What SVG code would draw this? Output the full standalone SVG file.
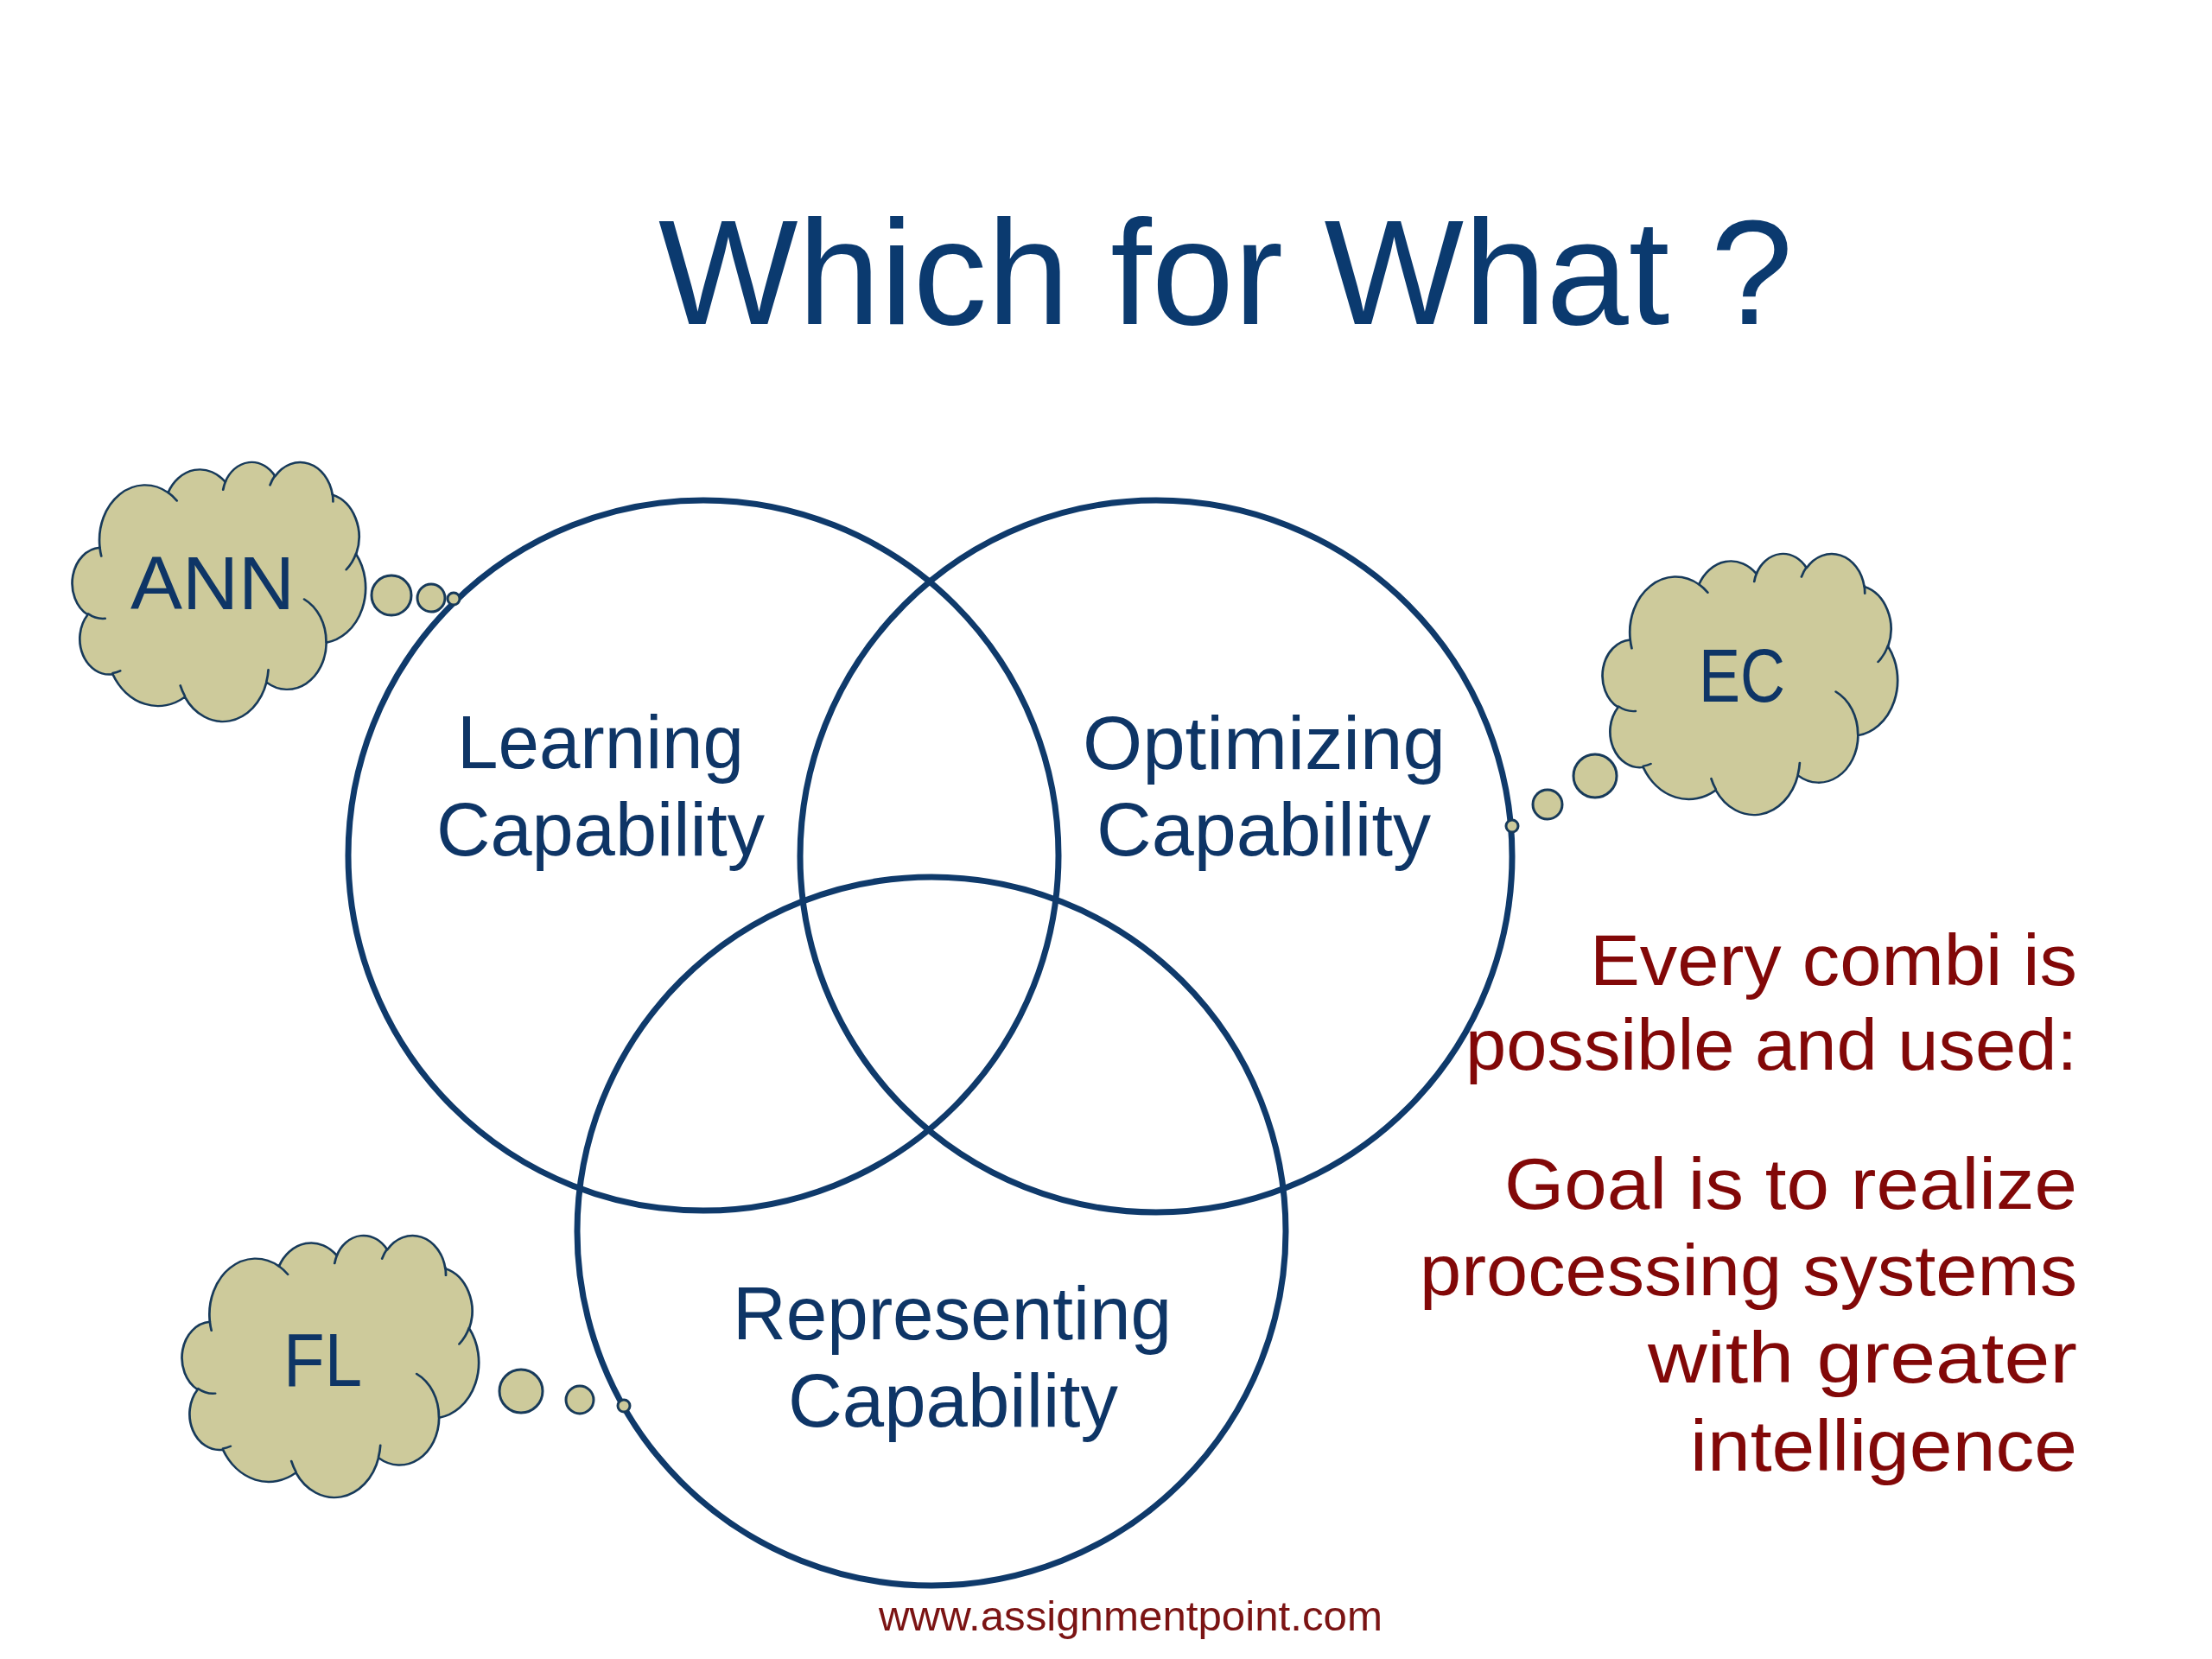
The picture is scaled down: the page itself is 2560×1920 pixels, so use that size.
<svg xmlns="http://www.w3.org/2000/svg" width="2560" height="1920" viewBox="0 0 2560 1920">
<style>
.bg{fill:#ffffff}
.venn{fill:none;stroke:#0f3a6b;stroke-width:7}
.cloud{fill:#cdca9b;stroke:#173a5a;stroke-width:0.8;stroke-linejoin:round}
.inner{fill:none;stroke:#173a5a;stroke-width:0.8;stroke-linecap:round}
.bubble{fill:#cdca9b;stroke:#173a5a;stroke-width:3}
.title{font-family:"Liberation Sans",Arial,sans-serif;font-size:172px;fill:#0b3a6f}
.lbl{font-family:"Liberation Sans",Arial,sans-serif;font-size:88px;fill:#0e3566}
.ctxt{font-family:"Liberation Sans",Arial,sans-serif;font-size:88px;fill:#0e3566}
.note{font-family:"Liberation Sans",Arial,sans-serif;font-size:84px;fill:#820808}
.foot{font-family:"Liberation Sans",Arial,sans-serif;font-size:49px;fill:#7b1414}
</style>
<defs>
<path id="cloudOutline" d="M 9.03 33.26 A 15.63 21.27 0 0 1 32.42 12.04 A 12.35 16.82 0 0 1 51.98 7.94 A 10.10 13.76 0 0 1 69.06 5.73 A 11.24 15.27 0 0 1 88.70 12.90 A 12.35 16.84 0 0 1 96.80 35.78 A 15.68 21.34 0 0 1 86.59 69.90 A 13.39 18.21 0 0 1 66.10 85.20 A 15.63 21.33 0 0 1 38.15 90.88 A 17.87 24.41 0 0 1 13.44 82.09 A 10.09 13.70 0 0 1 4.89 59.13 A 10.06 13.76 0 0 1 9.03 33.26 Z"/>
<path id="cloudInner" d="M 10.86 60.60 A 10.06 13.76 0 0 1 5.00 58.75 M 16.04 80.78 A 10.09 13.70 0 0 1 13.47 81.67 M 38.14 90.49 A 15.63 21.33 0 0 1 36.60 86.45 M 66.73 80.44 A 15.63 21.33 0 0 1 66.11 84.86 M 79.00 53.13 A 13.39 18.21 0 0 1 86.53 69.65 M 96.75 35.54 A 12.35 16.84 0 0 1 93.40 41.74 M 88.71 12.56 A 11.24 15.27 0 0 1 88.89 15.48 M 67.31 9.15 A 11.24 15.27 0 0 1 69.03 5.42 M 51.25 10.93 A 10.10 13.76 0 0 1 52.08 7.71 M 32.41 12.02 A 15.63 21.27 0 0 1 35.42 15.14 M 9.55 36.55 A 15.63 21.27 0 0 1 9.03 33.27"/>
</defs>
<rect class="bg" x="0" y="0" width="2560" height="1920"/>

<g id="title">
<text class="title" x="762" y="375" textLength="1313" lengthAdjust="spacingAndGlyphs">Which for What ?</text>
</g>

<g id="node-learning">
<circle class="venn" cx="814" cy="990" r="411"/>
<text class="lbl" x="529" y="889" textLength="332" lengthAdjust="spacingAndGlyphs">Learning</text>
<text class="lbl" x="505" y="990" textLength="380" lengthAdjust="spacingAndGlyphs">Capability</text>
</g>

<g id="node-optimizing">
<circle class="venn" cx="1338" cy="991" r="412"/>
<text class="lbl" x="1253" y="890" textLength="420" lengthAdjust="spacingAndGlyphs">Optimizing</text>
<text class="lbl" x="1269" y="990" textLength="387" lengthAdjust="spacingAndGlyphs">Capability</text>
</g>

<g id="node-representing">
<circle class="venn" cx="1078" cy="1425" r="410"/>
<text class="lbl" x="848" y="1550" textLength="508" lengthAdjust="spacingAndGlyphs">Representing</text>
<text class="lbl" x="912" y="1651" textLength="382" lengthAdjust="spacingAndGlyphs">Capability</text>
</g>

<g id="cloud-ann">
<g transform="translate(85,534) scale(3.38,3.00)">
<use href="#cloudOutline" class="cloud"/>
<use href="#cloudInner" class="inner"/>
</g>
<text class="ctxt" x="151" y="705" textLength="190" lengthAdjust="spacingAndGlyphs">ANN</text>
</g>

<g id="cloud-ec">
<g transform="translate(1856,640) scale(3.40,3.02)">
<use href="#cloudOutline" class="cloud"/>
<use href="#cloudInner" class="inner"/>
</g>
<text class="ctxt" x="1966" y="812" textLength="100" lengthAdjust="spacingAndGlyphs">EC</text>
</g>

<g id="cloud-fl">
<g transform="translate(212,1429) scale(3.42,3.03)">
<use href="#cloudOutline" class="cloud"/>
<use href="#cloudInner" class="inner"/>
</g>
<text class="ctxt" x="328" y="1604" textLength="91" lengthAdjust="spacingAndGlyphs">FL</text>
</g>

<g id="connectors">
<circle class="bubble" cx="453" cy="689" r="23"/>
<circle class="bubble" cx="499" cy="692" r="16"/>
<circle class="bubble" cx="525" cy="693" r="7"/>
<circle class="bubble" cx="1846" cy="898" r="25"/>
<circle class="bubble" cx="1791" cy="931" r="17"/>
<circle class="bubble" cx="1750" cy="956" r="7"/>
<circle class="bubble" cx="603" cy="1610" r="25"/>
<circle class="bubble" cx="671" cy="1620" r="16"/>
<circle class="bubble" cx="722" cy="1627" r="7"/>
</g>

<g id="note">
<text class="note" x="1840" y="1140" textLength="564" lengthAdjust="spacingAndGlyphs">Every combi is</text>
<text class="note" x="1696" y="1238" textLength="708" lengthAdjust="spacingAndGlyphs">possible and used:</text>
<text class="note" x="1741" y="1399" textLength="663" lengthAdjust="spacingAndGlyphs">Goal is to realize</text>
<text class="note" x="1643" y="1499" textLength="761" lengthAdjust="spacingAndGlyphs">processing systems</text>
<text class="note" x="1907" y="1600" textLength="497" lengthAdjust="spacingAndGlyphs">with greater</text>
<text class="note" x="1956" y="1702" textLength="448" lengthAdjust="spacingAndGlyphs">intelligence</text>
</g>

<g id="footer">
<text class="foot" x="1017" y="1887" textLength="583" lengthAdjust="spacingAndGlyphs">www.assignmentpoint.com</text>
</g>
</svg>
